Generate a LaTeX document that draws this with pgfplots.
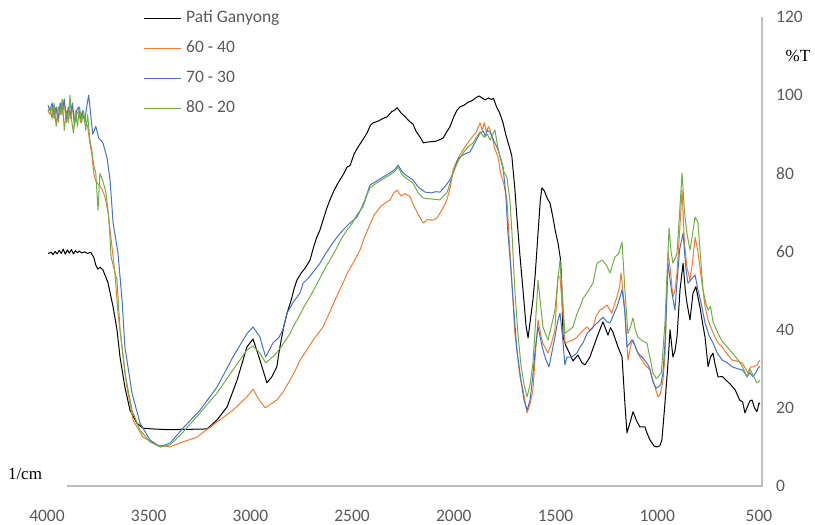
\documentclass[border=0pt]{standalone}
\usepackage{pgfplots}
\pgfplotsset{compat=1.18}
\usepackage{fontspec}
\setmainfont{Carlito}
\newfontfamily\timesf{Liberation Serif}
\definecolor{exorange}{HTML}{ED7D31}
\definecolor{exblue}{HTML}{4472C4}
\definecolor{exgreen}{HTML}{70AD47}
\definecolor{ticklab}{HTML}{595959}
\definecolor{axisgray}{HTML}{BFBFBF}
\begin{document}
\begin{tikzpicture}
\path[use as bounding box] (0,0) rectangle (815pt,525pt);
\begin{axis}[
 at={(47pt,39pt)}, anchor=south west,
 scale only axis, width=715pt, height=469pt,
 x dir=reverse, xmin=485, xmax=4000, ymin=0, ymax=120,
 xtick={500,1000,...,4000}, ytick={0,20,...,120},
 axis line style={draw=none},
 major tick length=0pt,
 tick label style={font=\fontsize{17.5}{20}\selectfont, text=ticklab},
 /pgf/number format/assume math mode=true,
 /pgf/number format/1000 sep={},
 yticklabel pos=right,
 yticklabel style={anchor=west, inner sep=0pt, xshift=14pt},
 xticklabel style={anchor=base, inner sep=0pt, yshift=-36pt},
 clip=false,
 legend style={at={(axis description cs:0.1343,1.015)}, anchor=north west, draw=none, fill=none,
   font=\fontsize{17.5}{20}\selectfont, text=ticklab, row sep=14pt, inner sep=0pt,
   nodes={inner sep=0pt, text height=12pt, text depth=4pt},
   /tikz/every odd column/.append style={column sep=5pt}},
 legend cell align=left,
 legend image code/.code={\draw[#1] (0pt,0pt) -- (37pt,0pt);},
 every axis plot/.append style={line width=1pt, line join=round},
]
\draw[axisgray, line width=1.2pt] (axis cs:3902,0) -- (axis cs:485,0) -- (axis cs:485,120);
\addplot[black] coordinates {
(3995,59.5)(3980,59.8)(3970,59.2)(3960,60.0)(3950,59.4)(3940,60.3)(3930,59.5)(3920,60.6)(3910,59.3)(3900,60.4)(3890,59.6)(3880,60.5)(3870,59.4)(3860,60.2)(3850,59.7)(3840,60.1)(3830,59.6)(3815,59.9)(3800,59.5)(3785,59.8)(3770,58.5)(3760,56.5)(3750,55.5)(3740,56)(3725,55.3)(3700,52)(3675,45.8)(3656,40)(3641,33)(3617,25.3)(3592,19.4)(3558,16.1)(3528,14.8)(3480,14.6)(3400,14.4)(3300,14.5)(3213,14.6)(3164,16.9)(3115,20.2)(3066,27)(3017,35.6)(2987,37.6)(2953,32.2)(2919,26.4)(2894,28)
(2870,30.5)(2860,34)(2850,37)(2835,41)(2820,44.2)(2800,47.5)(2785,50.5)(2771,52.7)(2750,54.5)(2730,55.8)(2707,57.8)(2690,61)(2675,63.5)(2658,65.5)(2640,68.5)(2625,71)(2609,73.2)(2590,75.5)(2575,77)(2560,78.3)(2540,80)(2525,81.6)(2510,82)(2490,85)(2470,86.8)(2450,88.4)(2427,90.3)(2410,92.3)(2397,92.9)(2370,93.4)(2350,94)(2329,94.4)(2305,95.8)(2290,96.2)(2279,96.8)(2260,95.5)(2240,94.5)(2220,93.4)(2201,92.6)(2185,90.7)(2165,89.2)(2150,87.8)(2130,88)(2110,88.1)(2090,88.2)(2070,88.6)(2053,89)(2035,90.6)(2019,91.9)(2000,94.5)(1985,96.1)(1970,97)(1950,97.4)(1930,98.2)(1910,98.6)(1890,99.4)(1875,99.8)(1860,99.2)(1845,98.8)(1830,99.3)(1815,98.9)(1805,99.2)(1790,97)(1775,95.5)(1758,92.9)(1745,90)(1730,87.3)(1715,84.5)(1700,76)(1690,68.8)(1675,59)(1660,50.2)(1645,41)(1635,37.9)(1620,44)(1611,47.6)(1600,54)(1586,64.7)(1575,73)(1567,76.3)(1555,75.5)(1540,73.5)(1527,72.4)(1513,68.8)(1500,65)(1488,62.2)(1475,57.8)(1470,51.9)(1463,38.1)(1450,36)(1439,34.8)(1414,32)(1390,33.5)(1370,31.5)(1355,31)(1331,33)(1296,38.1)(1267,42)(1242,38.6)(1230,40.5)(1218,39.4)(1193,35.6)(1173,33)(1159,21.2)(1149,13.6)(1135,16)(1119,19)(1100,16.5)(1085,15.1)(1060,15.1)(1050,13.5)(1036,11.8)(1015,10.2)(1001,10)(987,10.3)(977,11.8)(962,21.2)(947,31.5)(937,40)(923,33)(913,34.5)(903,38.1)(888,50.2)(873,57)(862,50)(854,46.8)(839,42.5)(824,49.4)(810,51)(790,45.8)(775,41)(765,38.1)(750,30.5)(738,33)(726,34)(715,31)(701,27.9)(680,28)(660,27)(640,26)(617,24.6)(595,22)(580,21.5)(569,18.7)(555,20.5)(544,21.8)(534,22)(522,20)(510,19)(500,21.2)(495,21)
};
\addlegendentry{Pati Ganyong}
\addplot[exorange] coordinates {
(3995,96)(3985,95)(3975,97)(3965,94)(3955,96.5)(3945,93)(3935,97)(3925,95)(3915,98)(3905,93)(3895,96)(3885,94)(3875,97)(3865,92)(3855,95)(3845,96)(3835,93)(3825,95)(3815,94)(3800,92)(3790,88)(3780,85)(3770,80)(3760,78)(3745,77)(3730,76)(3715,74)(3700,70)(3680,61)(3666,54.5)(3651,44.2)(3631,35.6)(3607,25.3)(3577,16.9)(3528,12.5)(3459,10.5)(3395,10)(3346,11)(3263,12.5)(3184,15.6)(3086,19.4)(3017,22.8)(2987,24.8)(2963,22.5)(2928,20)
(2870,22)(2840,24)(2805,27.1)(2780,29.5)(2756,32.2)(2720,35)(2690,37.5)(2660,39.5)(2643,40.7)(2610,44.5)(2580,48)(2545,51.9)(2520,54.8)(2490,57.5)(2461,60.4)(2440,63.5)(2412,67)(2390,69.5)(2360,71.5)(2335,72.5)(2314,73.2)(2295,75)(2279,75.7)(2260,74.2)(2240,74.8)(2215,74)(2195,71.5)(2170,69)(2150,67.3)(2130,68.2)(2105,68)(2083,68.6)(2060,70.5)(2034,73.2)(2015,77)(2004,80.9)(1985,83.2)(1970,84.8)(1955,86)(1935,87.5)(1910,89.3)(1890,90.5)(1871,92.9)(1860,91)(1850,93)(1840,90.5)(1830,92)(1822,91.1)(1810,89)(1800,86.5)(1783,84.2)(1770,80)(1755,77.5)(1739,73.2)(1724,59.6)(1710,48)(1700,39)(1690,34.8)(1675,28)(1660,24.6)(1640,18.7)(1625,21)(1611,24.6)(1600,33)(1586,42.5)(1570,38)(1562,36.5)(1537,34)(1520,36.5)(1503,40)(1488,53.5)(1478,53.5)(1465,45)(1454,36.6)(1430,37)(1414,37.4)(1395,38)(1370,39.5)(1345,40.7)(1330,39.8)(1316,40.4)(1300,43.5)(1282,45)(1265,45.5)(1247,46.3)(1223,44.2)(1210,46.5)(1198,48.4)(1185,51)(1178,54.5)(1169,50)(1159,45)(1144,32.2)(1130,36)(1119,37.4)(1100,34.5)(1085,33)(1060,31)(1036,29.7)(1011,25.3)(996,22.8)(985,23.5)(972,27)(962,33)(947,60)(935,55)(923,48.4)(913,50)(903,54.5)(890,65)(878,75.7)(866,62)(854,56)(839,52.7)(825,58)(814,63.7)(800,60)(780,51.9)(765,46)(750,42.5)(740,41)(716,38.1)(700,36.5)(680,35.6)(660,34)(632,32.2)(610,32)(583,31.5)(565,30)(554,28.9)(540,30.5)(525,30.5)(510,31)(495,32.2)
};
\addlegendentry{60 - 40}
\addplot[exblue] coordinates {
(3995,97.5)(3985,96)(3975,98)(3965,95)(3955,97)(3945,94)(3935,98)(3925,96)(3915,99)(3905,94)(3895,97)(3885,95)(3875,98)(3865,93)(3855,96)(3845,97)(3835,94)(3825,96)(3815,93)(3805,97)(3795,100)(3785,95)(3775,90)(3760,92)(3745,89)(3725,87.8)(3705,84)(3690,78.3)(3675,67.3)(3651,59.6)(3631,47.6)(3617,35.6)(3582,23.8)(3543,16.1)(3494,11.8)(3444,10)(3395,11)(3331,14.8)(3248,19.4)(3164,25.3)(3086,33)(3017,39)(2987,40.7)(2953,38.1)(2925,33)
(2889,36.6)(2860,38)(2840,40)(2820,44.2)(2790,47)(2756,49.4)(2741,51.9)(2710,53.5)(2680,55.5)(2658,57)(2630,59.5)(2600,61.8)(2574,63.7)(2545,65.5)(2510,67.3)(2476,68.8)(2455,71)(2437,73.2)(2412,77)(2380,78)(2350,79)(2314,80.1)(2290,81)(2274,82.1)(2255,80.5)(2235,79.5)(2201,78.3)(2175,76.5)(2142,75.2)(2110,75)(2090,75.3)(2068,75.2)(2045,76.5)(2019,78.3)(2000,80.5)(1985,83)(1970,84.2)(1945,85)(1920,85.5)(1895,88)(1871,90.3)(1855,90.8)(1845,89.5)(1835,91)(1822,90.6)(1805,88.5)(1788,86.7)(1770,84)(1758,81.6)(1745,75)(1734,64.7)(1720,56)(1705,45)(1690,34.8)(1670,27)(1655,22)(1640,19.4)(1625,22)(1612,28)(1600,35)(1586,40.7)(1562,34.8)(1545,32)(1532,30.5)(1515,35)(1503,38.1)(1490,42)(1478,44.2)(1465,38)(1454,31)(1444,33)(1420,33)(1395,34)(1380,35.5)(1365,36.6)(1345,39)(1316,40.7)(1296,41.7)(1267,43.2)(1247,42)(1232,41.7)(1215,43.8)(1198,45.8)(1185,48)(1173,50.2)(1160,45)(1149,35.6)(1135,36.5)(1124,37.4)(1110,36)(1095,34)(1075,33)(1051,31.5)(1036,30)(1021,26.6)(1005,25)(996,25.3)(982,26)(972,28.9)(960,38)(947,57)(930,50)(913,45)(903,52)(890,60.4)(873,64.7)(860,56)(849,51.9)(830,53)(814,54)(800,50.2)(785,47)(765,41.7)(745,38.5)(726,36.6)(705,34)(680,32.2)(655,31.5)(632,30.5)(605,30)(583,29.7)(570,29)(559,27.9)(545,29)(530,28)(515,29)(500,30.5)(495,30.5)
};
\addlegendentry{70 - 30}
\addplot[exgreen] coordinates {
(3995,96)(3985,97)(3975,94)(3965,98)(3955,92)(3945,97)(3935,95)(3925,99)(3915,91)(3905,96)(3895,93)(3887,100)(3880,94)(3870,90.3)(3860,96)(3850,92)(3840,97)(3830,93)(3820,96)(3810,91)(3800,95)(3790,89)(3780,86)(3770,82)(3760,80)(3749,70.6)(3740,80)(3725,78)(3710,75)(3695,68)(3685,58.6)(3656,52.7)(3641,40)(3617,28.9)(3582,19.4)(3543,14.3)(3494,11.3)(3444,10)(3395,10.5)(3331,13.8)(3248,18.7)(3164,23.8)(3086,29.7)(3017,34.8)(2987,35.8)(2953,34)(2925,31.5)
(2880,33.5)(2850,35.5)(2805,39)(2790,40.7)(2760,43.5)(2735,46)(2707,48.4)(2680,51)(2650,54)(2630,56)(2609,57.8)(2580,60.5)(2550,63.5)(2525,65.5)(2500,67.2)(2475,69.5)(2447,71.4)(2430,74)(2412,76.3)(2380,77.5)(2350,78.5)(2314,79.6)(2290,80.5)(2274,81.6)(2255,79.7)(2235,78.8)(2201,77.5)(2175,75)(2152,73.7)(2125,73.5)(2100,73.4)(2068,73.2)(2050,74.3)(2034,75)(2015,78)(2004,80.1)(1980,83)(1955,85.2)(1930,86.8)(1905,87.8)(1885,89.5)(1871,90.6)(1850,89.2)(1835,90)(1822,88.5)(1810,89.8)(1798,91.1)(1785,87)(1773,84.2)(1755,80.5)(1739,79)(1724,73)(1714,64.7)(1700,50)(1685,39)(1670,31)(1655,26)(1640,22.8)(1625,26)(1611,31.5)(1598,42)(1586,52.7)(1562,40.7)(1550,39)(1537,37.4)(1520,41)(1503,45)(1490,52)(1478,57.8)(1465,48)(1454,39)(1444,39.5)(1430,40)(1414,40.7)(1395,44)(1380,45.8)(1365,48)(1345,49.4)(1316,51.9)(1296,57)(1270,57.8)(1250,56.5)(1232,54.5)(1208,58.6)(1190,59.4)(1173,62.4)(1159,50.2)(1144,39)(1130,41)(1119,43)(1108,40)(1095,38.1)(1070,37)(1051,36.6)(1036,33)(1021,28.9)(1005,27.5)(996,27.9)(980,29)(962,41.7)(942,66)(932,60)(923,57)(910,58.5)(903,59.6)(890,70)(878,80.1)(866,70)(854,64.7)(839,60.4)(825,65)(814,68.8)(800,67.5)(775,50.2)(760,46.5)(750,45)(738,46)(726,42)(701,39)(680,37)(657,35.6)(630,34)(603,32.2)(580,30.5)(559,27.9)(545,30)(530,28.5)(510,26.4)(495,27)
};
\addlegendentry{80 - 20}
\end{axis}
\node[font=\timesf\fontsize{17}{20}\selectfont] at (25pt,51pt) {1/cm};
\node[font=\timesf\fontsize{17}{20}\selectfont] at (798pt,469pt) {\%T};
\end{tikzpicture}
\end{document}
